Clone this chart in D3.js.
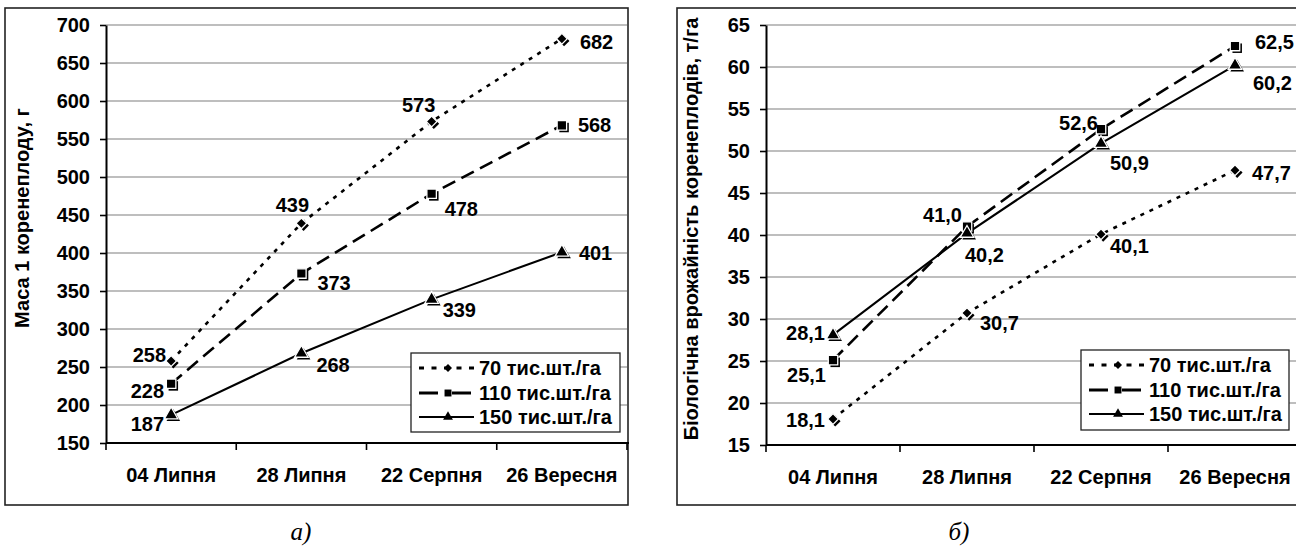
<!DOCTYPE html>
<html><head><meta charset="utf-8">
<script src="https://cdn.jsdelivr.net/npm/d3@7/dist/d3.min.js"></script>
<style>
body{margin:0;background:#fff}
text{font-family:"Liberation Sans",Arial,sans-serif;font-weight:bold;fill:#000}
.cap{font-family:"Liberation Serif","Times New Roman",serif;font-weight:normal;font-style:italic}
</style>
</head><body>
<svg id="c" width="1305" height="552"></svg>
<script>
// ---------- data ----------
const categories = ["04 Липня", "28 Липня", "22 Серпня", "26 Вересня"];
const seriesNames = ["70 тис.шт./га", "110 тис.шт./га", "150 тис.шт./га"];

const mass70  = [258, 439, 573, 682];
const mass110 = [228, 373, 478, 568];
const mass150 = [187, 268, 339, 401];
const massTicks = [150, 200, 250, 300, 350, 400, 450, 500, 550, 600, 650, 700];

const yield70  = [18.1, 30.7, 40.1, 47.7];
const yield110 = [25.1, 41.0, 52.6, 62.5];
const yield150 = [28.1, 40.2, 50.9, 60.2];
const yieldTicks = [15, 20, 25, 30, 35, 40, 45, 50, 55, 60, 65];

const massTitle = "Маса 1 коренеплоду, г";
const yieldTitle = "Біологічна врожайність коренеплодів, т/га";

// ---------- layout (label placement per point: anchor, dx, dy) ----------
const massLabelPos = [
  [["end",-5,1],["middle",-9,-11],["middle",-13,-10],["start",18,10]],
  [["end",-7,14],["start",16,16],["start",13,22],["start",16,7]],
  [["end",-7,16],["start",15,19],["start",11,18],["start",17,8]]
];
const yieldLabelPos = [
  [["end",-8,8],["start",13,17],["start",9,19],["start",17,10]],
  [["end",-7,22],["end",-5,-5],["end",-3,1],["start",20,3]],
  [["end",-8,5],["start",-2,29],["start",9,27],["start",18,25]]
];

const styles = [
  {dash:"4,6", width:2.6, symbol:"diamond"},
  {dash:"14,7", width:2.6, symbol:"square"},
  {dash:null, width:2.1, symbol:"triangle"}
];

const FS = 20;
const svg = d3.select("#c");

function symbolPath(kind, big) {
  if (kind === "diamond") return d3.symbol(d3.symbolSquare, big ? 58 : 32)();
  if (kind === "square") return d3.symbol(d3.symbolSquare, big ? 90 : 48)();
  return d3.symbol(d3.symbolTriangle, big ? 80 : 42)();
}
function addMarker(g, kind, x, y, big) {
  const rot = kind === "diamond" ? " rotate(45)" : "";
  const d = symbolPath(kind, big);
  if (big) {
    g.append("path").attr("d", d).attr("transform", `translate(${x+2.2},${y+2.2})${rot}`).attr("fill", "#000");
    g.append("path").attr("d", d).attr("transform", `translate(${x},${y})${rot}`)
      .attr("fill", "#000").attr("stroke", "#fff").attr("stroke-width", 1.3);
  } else {
    g.append("path").attr("d", d).attr("transform", `translate(${x},${y})${rot}`).attr("fill", "#000");
  }
}

function panel(p) {
  const clipId = p.id + "clip";
  svg.append("clipPath").attr("id", clipId).append("rect")
    .attr("x", 0).attr("y", 0).attr("width", p.clipRight).attr("height", 552);
  const g = svg.append("g").attr("clip-path", `url(#${clipId})`);

  g.append("rect").attr("x", p.frame[0]).attr("y", p.frame[1])
    .attr("width", p.frame[2]).attr("height", p.frame[3])
    .attr("fill", "#fff").attr("stroke", "#222").attr("stroke-width", 1.6);

  const x = d3.scaleBand().domain(categories).range([p.x0, p.x1]);
  const y = d3.scaleLinear().domain(p.domain).range([p.y1, p.y0]);
  const cx = c => x(c) + x.bandwidth() / 2;

  // gridlines
  g.append("g").selectAll("line").data(p.ticks.slice(1)).join("line")
    .attr("x1", p.x0).attr("x2", p.x1).attr("y1", d => y(d)).attr("y2", d => y(d))
    .attr("stroke", "#a8a8a8").attr("stroke-width", 1.4);

  // y axis
  const ya = g.append("g").attr("transform", `translate(${p.x0},0)`)
    .call(d3.axisLeft(y).tickValues(p.ticks).tickSize(6).tickPadding(10).tickSizeOuter(0));
  ya.select(".domain").attr("stroke", "#000").attr("stroke-width", 2);
  ya.selectAll(".tick line").attr("stroke", "#000").attr("stroke-width", 1.6);
  ya.selectAll(".tick text").attr("font-size", FS).attr("font-family", null);

  // x axis
  const xa = g.append("g").attr("transform", `translate(0,${p.y1})`)
    .call(d3.axisBottom(x).tickSize(0).tickPadding(p.xPad).tickSizeOuter(0));
  xa.select(".domain").remove();
  xa.selectAll(".tick text").attr("font-size", FS).attr("font-family", null);
  g.append("line").attr("x1", p.x0).attr("x2", p.x1 + 2).attr("y1", p.y1).attr("y2", p.y1)
    .attr("stroke", "#000").attr("stroke-width", 2);
  g.append("g").selectAll("line").data(d3.range(categories.length + 1)).join("line")
    .attr("x1", i => p.x0 + i * x.step()).attr("x2", i => p.x0 + i * x.step())
    .attr("y1", p.y1).attr("y2", p.y1 + 7).attr("stroke", "#000").attr("stroke-width", 1.6);

  // y title
  g.append("text").attr("transform", `translate(${p.titleX},${p.titleY}) rotate(-90)`)
    .attr("text-anchor", "middle").attr("font-size", FS).text(p.title);

  // series
  const line = d3.line().x((d, i) => cx(categories[i])).y(d => y(d));
  p.series.forEach((vals, si) => {
    const st = styles[si];
    g.append("path").datum(vals).attr("d", line).attr("fill", "none")
      .attr("stroke", "#000").attr("stroke-width", st.width)
      .attr("stroke-dasharray", st.dash);
  });
  p.series.forEach((vals, si) => {
    vals.forEach((v, i) => addMarker(g, styles[si].symbol, cx(categories[i]), y(v), true));
  });
  p.series.forEach((vals, si) => {
    vals.forEach((v, i) => {
      const [anchor, dx, dy] = p.labelPos[si][i];
      g.append("text").attr("x", cx(categories[i]) + dx).attr("y", y(v) + dy)
        .attr("text-anchor", anchor).attr("font-size", FS).text(p.fmt(v));
    });
  });

  // legend
  const L = p.legend;
  const lg = g.append("g").attr("transform", `translate(${L[0]},${L[1]})`);
  lg.append("rect").attr("width", L[2]).attr("height", L[3]).attr("fill", "#fff")
    .attr("stroke", "#222").attr("stroke-width", 1.3);
  const rowY = [15, 40, 64];
  seriesNames.forEach((name, si) => {
    const ry = rowY[si];
    const st = styles[si];
    if (si === 0) {
      lg.append("line").attr("x1", 8).attr("x2", 64).attr("y1", ry).attr("y2", ry)
        .attr("stroke", "#000").attr("stroke-width", 3).attr("stroke-dasharray", "5,7.5");
    } else if (si === 1) {
      lg.append("line").attr("x1", 8).attr("x2", 60).attr("y1", ry).attr("y2", ry)
        .attr("stroke", "#000").attr("stroke-width", 3).attr("stroke-dasharray", "19,3,0,11");
    } else {
      lg.append("line").attr("x1", 8).attr("x2", 63).attr("y1", ry).attr("y2", ry)
        .attr("stroke", "#000").attr("stroke-width", 2);
    }
    addMarker(lg, st.symbol, 37, ry, false);
    lg.append("text").attr("x", 68).attr("y", ry + 7).attr("font-size", FS).text(name);
  });

  svg.append("text").attr("class", "cap").attr("x", p.capX).attr("y", 540)
    .attr("text-anchor", "middle").attr("font-size", 25).text(p.caption);
}

const intFmt = d3.format("d");
const decFmt = v => d3.format(".1f")(v).replace(".", ",");

panel({
  id: "a", clipRight: 650, frame: [5, 8, 623, 497],
  x0: 106, x1: 627, y0: 25, y1: 443, domain: [150, 700], ticks: massTicks, xPad: 25,
  title: massTitle, titleX: 29, titleY: 218,
  series: [mass70, mass110, mass150], labelPos: massLabelPos, fmt: intFmt,
  legend: [411, 353, 209, 79], caption: "а)", capX: 301
});
panel({
  id: "b", clipRight: 1296, frame: [677, 8, 640, 497],
  x0: 766, x1: 1302, y0: 25, y1: 445, domain: [15, 65], ticks: yieldTicks, xPad: 25,
  title: yieldTitle, titleX: 698, titleY: 229,
  series: [yield70, yield110, yield150], labelPos: yieldLabelPos, fmt: decFmt,
  legend: [1081, 350, 208, 80], caption: "б)", capX: 959
});
</script>
</body></html>
